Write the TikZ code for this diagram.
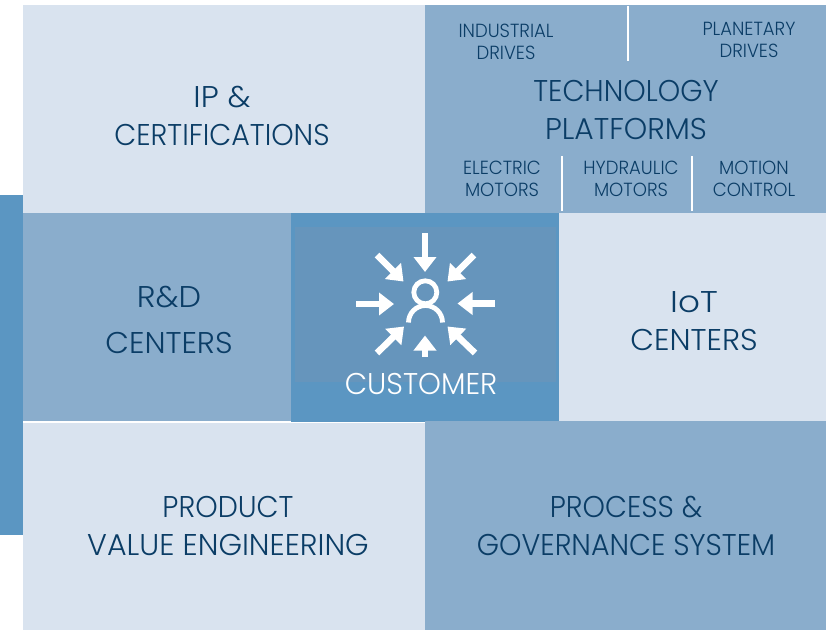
\documentclass[tikz,border=0pt]{standalone}
\usepackage{fontspec}
\setmainfont{Poppins}[UprightFont=* Light,FakeStretch=0.95]
\usetikzlibrary{arrows.meta}
\definecolor{lightpanel}{HTML}{D9E3EF}
\definecolor{midpanel}{HTML}{8AADCC}
\definecolor{deeppanel}{HTML}{5B96C2}
\definecolor{innerpanel}{HTML}{6695BC}
\definecolor{inktext}{HTML}{0B3D66}
\newcommand{\widen}[2]{\scalebox{#1}[1]{#2}}
\tikzset{
  x=1pt,y=-1pt,
  big/.style={text=inktext,align=center,inner sep=0pt,font=\fontsize{30}{38}\selectfont},
  small/.style={text=inktext,align=center,inner sep=0pt,font=\fontsize{19}{22}\selectfont},
  sep/.style={draw=white,line width=1.6pt},
  inarrow/.style={draw=white,line width=6.5pt,-{Triangle[width=22pt,length=15pt]}},
  personline/.style={draw=white,line width=4.8pt}
}
\begin{document}
\begin{tikzpicture}
\useasboundingbox (0,0) rectangle (826,630);
\fill[white] (0,0) rectangle (826,630);
\fill[deeppanel] (0,195) rectangle (23,535);
\fill[lightpanel] (23,5) rectangle (425,213);
\fill[midpanel] (425,5) rectangle (826,213);
\fill[midpanel] (23,213) rectangle (291,421);
\fill[deeppanel] (291,213) rectangle (559,422);
\fill[innerpanel] (295,227) rectangle (556,382);
\fill[lightpanel] (559,213) rectangle (826,421);
\fill[lightpanel] (23,423) rectangle (425,630);
\fill[midpanel] (425,421) rectangle (826,630);
% separators
\draw[sep] (628,6) -- (628,61);
\draw[sep] (562,156) -- (562,211);
\draw[sep] (692,156) -- (692,211);
% labels
\node[big] (ip) at (222,116) {\widen{1.12}{IP \&}\\CERTIFICATIONS};
\node[big] (tech) at (626,110) {TECHNOLOGY\\\widen{1.045}{PLATFORMS}};
\node[big,font=\fontsize{30}{46}\selectfont] (rd) at (169,320) {\widen{1.12}{R\&D}\\\widen{1.077}{CENTERS}};
\node[big] (iot) at (694,321) {\widen{1.2}{IoT}\\\widen{1.077}{CENTERS}};
\node[big] (prod) at (228,526) {PRODUCT\\\widen{1.057}{VALUE ENGINEERING}};
\node[big] (proc) at (626,526) {PROCESS \&\\GOVERNANCE SYSTEM};
\node[big,text=white] (cust) at (421,384) {\widen{1.02}{CUSTOMER}};
\node[small] (ind) at (506,42) {INDUSTRIAL\\DRIVES};
\node[small] (plan) at (749,40) {PLANETARY\\DRIVES};
\node[small] (elec) at (502,179) {ELECTRIC\\MOTORS};
\node[small] (hyd) at (631,179) {HYDRAULIC\\MOTORS};
\node[small] (mot) at (754,179) {MOTION\\CONTROL};
% icon
\draw[inarrow] (425,233) -- (425,272);
\draw[inarrow] (377,255) -- (403.5,281.5);
\draw[inarrow] (474,255) -- (447.5,281.5);
\draw[inarrow] (356,304) -- (394,304);
\draw[inarrow] (495,303.5) -- (457.5,303.5);
\draw[inarrow] (377,353) -- (404,326.5);
\draw[inarrow] (475,353) -- (447.5,326.5);
\draw[inarrow] (425,357) -- (425,335.5);
\draw[personline] (425.3,292.3) circle (11.5);
\draw[personline] (408.5,322.5) arc[start angle=180,end angle=360,x radius=17,y radius=17];
\end{tikzpicture}
\end{document}
